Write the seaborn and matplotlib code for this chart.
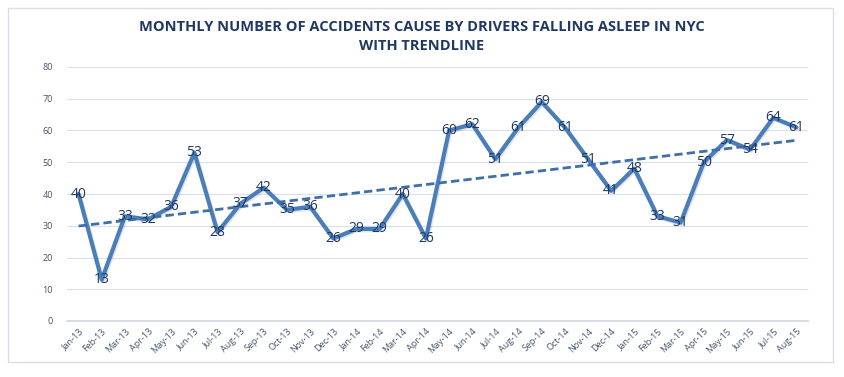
import numpy as np
import pandas as pd
import matplotlib.pyplot as plt
import matplotlib.patheffects as pe
import seaborn as sns

months = ["Jan-13", "Feb-13", "Mar-13", "Apr-13", "May-13", "Jun-13", "Jul-13", "Aug-13",
          "Sep-13", "Oct-13", "Nov-13", "Dec-13", "Jan-14", "Feb-14", "Mar-14", "Apr-14",
          "May-14", "Jun-14", "Jul-14", "Aug-14", "Sep-14", "Oct-14", "Nov-14", "Dec-14",
          "Jan-15", "Feb-15", "Mar-15", "Apr-15", "May-15", "Jun-15", "Jul-15", "Aug-15"]
accidents = [40, 13, 33, 32, 36, 53, 28, 37, 42, 35, 36, 26, 29, 29, 40, 26,
             60, 62, 51, 61, 69, 61, 51, 41, 48, 33, 31, 50, 57, 54, 64, 61]

LINE_COLOR = "#4A7EBB"
TEXT_COLOR = "#1F3864"
TICK_COLOR = "#44546A"
GRID_COLOR = "#D9E1EC"

sns.set_theme(style="white")
plt.rcParams["font.family"] = ["Open Sans", "DejaVu Sans"]

df = pd.DataFrame({"idx": np.arange(len(months)), "month": months, "n": accidents})

fig = plt.figure(figsize=(8.44, 3.77), dpi=100)
fig.patches.append(plt.Rectangle((8 / 844, 15 / 377), 825 / 844, 354 / 377,
                                 transform=fig.transFigure, fill=False,
                                 ec="#D9DEE6", lw=1))
ax = fig.add_axes([67 / 844, 56 / 377, 741 / 844, 254 / 377])

sns.lineplot(data=df, x="idx", y="n", ax=ax, color=LINE_COLOR, lw=3,
             path_effects=[pe.SimpleLineShadow(offset=(0.8, -1), alpha=0.12),
                           pe.Normal()])
sns.regplot(data=df, x="idx", y="n", ax=ax, scatter=False, ci=None,
            line_kws={"color": "#3F6EA8", "lw": 2, "ls": (0, (3, 1.5))})

for i, v in enumerate(accidents):
    ax.text(i, v, str(v), ha="center", va="center", fontsize=10,
            color=TEXT_COLOR, zorder=6)

ax.set_xlim(-0.5, len(months) - 0.5)
ax.set_ylim(0, 80)
ax.set_yticks(range(0, 81, 10))
ax.set_xticks(range(len(months)))
ax.set_xticklabels(months, rotation=45, ha="right", rotation_mode="anchor",
                   fontsize=6.5, color=TICK_COLOR)
ax.tick_params(axis="y", labelsize=6.5, labelcolor=TICK_COLOR, length=0, pad=10)
ax.tick_params(axis="x", length=0, pad=4)
ax.set_xticks(np.arange(-0.5, len(months)), minor=True)
ax.tick_params(axis="x", which="minor", length=4, color="#D0D7E2", width=0.8)
ax.yaxis.grid(True, color=GRID_COLOR, lw=0.9)
ax.xaxis.grid(False)
for s in ["top", "right", "left"]:
    ax.spines[s].set_visible(False)
ax.spines["bottom"].set_color("#D0D7E2")
ax.set_xlabel("")
ax.set_ylabel("")

fig.text(0.5, 1 - 27 / 377, "MONTHLY NUMBER OF ACCIDENTS CAUSE BY DRIVERS FALLING ASLEEP IN NYC",
         ha="center", va="center", fontsize=10.5, fontweight="bold", color=TEXT_COLOR)
fig.text(0.5, 1 - 46 / 377, "WITH TRENDLINE",
         ha="center", va="center", fontsize=10.5, fontweight="bold", color=TEXT_COLOR)

fig.savefig("out.png", dpi=100, facecolor="white")
